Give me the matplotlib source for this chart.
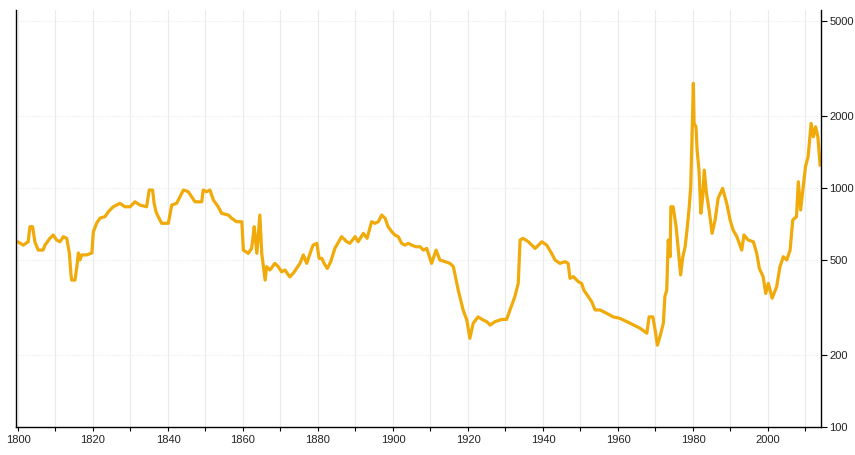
import numpy as np
import matplotlib.pyplot as plt
from matplotlib.ticker import FixedLocator, NullFormatter

years = [1800.1, 1801.4, 1802.7, 1803.2, 1803.9, 1804.5, 1805.4, 1806.7, 1807.2, 1808.5,
         1809.4, 1810.3, 1811.2, 1812.1, 1813.0, 1813.7, 1814.1, 1814.3, 1815.2, 1815.7,
         1816.1, 1816.5, 1817.0, 1818.3, 1819.7, 1820.1, 1821.0, 1821.9, 1823.2, 1824.1,
         1825.4, 1827.2, 1828.5, 1829.9, 1831.2, 1832.5, 1834.3, 1835.0, 1835.9, 1836.3,
         1836.8, 1837.4, 1838.3, 1840.1, 1841.0, 1842.3, 1843.2, 1844.1, 1845.4, 1846.3,
         1847.2, 1849.0, 1849.4, 1850.3, 1851.2, 1852.1, 1853.4, 1854.3, 1856.1, 1857.0,
         1858.3, 1859.7, 1860.1, 1861.4, 1862.3, 1862.7, 1863.0, 1863.7, 1864.5, 1865.0,
         1865.9, 1866.3, 1867.2, 1868.5, 1869.4, 1870.3, 1871.2, 1872.1, 1872.5, 1873.4,
         1875.2, 1876.1, 1877.0, 1877.9, 1878.7, 1879.7, 1880.3, 1881.0, 1881.9, 1882.5,
         1883.4, 1884.5, 1886.3, 1887.7, 1888.5, 1889.9, 1890.7, 1892.1, 1893.1, 1894.3,
         1895.2, 1896.1, 1897.0, 1897.9, 1898.7, 1899.7, 1900.5, 1901.4, 1902.3, 1903.2,
         1904.1, 1905.0, 1906.1, 1907.2, 1908.1, 1909.0, 1910.3, 1911.5, 1912.5, 1913.9,
         1915.2, 1916.1, 1917.4, 1918.7, 1919.7, 1920.5, 1921.4, 1922.7, 1924.1, 1925.0,
         1925.9, 1927.2, 1929.0, 1930.3, 1931.2, 1932.5, 1933.4, 1933.9, 1934.7, 1936.1,
         1937.9, 1939.7, 1941.0, 1942.3, 1943.2, 1944.5, 1945.9, 1946.7, 1947.2, 1948.1,
         1949.4, 1950.3, 1950.9, 1952.1, 1953.0, 1953.9, 1955.2, 1957.0, 1958.7, 1960.5,
         1963.2, 1965.9, 1967.7, 1968.3, 1969.3, 1969.9, 1970.5, 1971.2, 1972.1, 1972.5,
         1973.0, 1973.4, 1973.9, 1974.1, 1974.7, 1975.5, 1976.1, 1976.7, 1977.3, 1977.9,
         1978.5, 1979.0, 1979.4, 1980.1, 1980.3, 1980.8, 1981.1, 1981.6, 1982.1, 1982.6,
         1983.0, 1983.6, 1984.3, 1985.1, 1985.9, 1986.7, 1987.9, 1989.0, 1989.9, 1990.7,
         1991.7, 1993.0, 1993.6, 1994.7, 1996.1, 1997.0, 1997.7, 1998.7, 1999.4, 2000.1,
         2001.1, 2002.3, 2003.2, 2004.1, 2005.0, 2005.9, 2006.6, 2007.6, 2008.1, 2008.7,
         2009.4, 2010.0, 2010.7, 2011.5, 2012.1, 2012.7, 2013.3, 2013.9]

price = [594, 577, 596, 689, 689, 596, 550, 550, 577, 616,
         636, 606, 596, 626, 616, 535, 441, 412, 412, 469,
         535, 500, 525, 525, 535, 656, 714, 749, 759, 796,
         835, 863, 835, 835, 876, 849, 835, 981, 981, 865,
         796, 759, 712, 712, 849, 863, 919, 981, 966, 919,
         876, 876, 981, 966, 981, 891, 835, 784, 771, 747,
         723, 723, 550, 533, 559, 626, 689, 533, 771, 533,
         412, 469, 454, 484, 469, 446, 454, 433, 425, 440,
         484, 525, 484, 533, 577, 587, 508, 508, 476, 461,
         492, 559, 626, 596, 587, 626, 596, 646, 616, 723,
         712, 723, 771, 747, 689, 656, 636, 626, 587, 577,
         587, 577, 568, 568, 550, 559, 484, 550, 500, 492,
         484, 469, 374, 309, 280, 235, 272, 289, 280, 276,
         267, 276, 282, 282, 309, 351, 399, 606, 616, 596,
         559, 596, 577, 533, 500, 484, 492, 484, 419, 426,
         406, 399, 374, 351, 334, 309, 309, 299, 289, 285,
         272, 259, 247, 289, 289, 255, 220, 239, 272, 351,
         374, 606, 516, 835, 835, 689, 550, 433, 516, 568,
         689, 835, 1013, 2742, 1865, 1805, 1442, 1189, 784, 919,
         1189, 950, 809, 646, 735, 905, 997, 863, 735, 667,
         626, 550, 636, 606, 596, 533, 461, 426, 362, 399,
         346, 386, 469, 516, 500, 550, 735, 759, 1063, 809,
         1013, 1228, 1352, 1865, 1639, 1805, 1639, 1248]

yticks = [100, 200, 500, 1000, 2000, 5000]
xmajor = list(range(1800, 2001, 20))
xminor = list(range(1810, 2011, 20))

fig = plt.figure(figsize=(8.55, 4.55), dpi=100)
ax = fig.add_axes([0.0187, 0.0615, 0.9415, 0.9165])

ax.plot(years, price, color='#F0AA0A', linewidth=2.3, solid_joinstyle='round')

ax.set_yscale('log')
ax.set_ylim(100, 5560)
ax.set_xlim(1799.47, 2014.13)

# grid
for x in range(1800, 2011, 10):
    ax.axvline(x, color='#ebebeb', linewidth=0.8, zorder=0)
for y in yticks[1:]:
    ax.axhline(y, color='#e8eef4', linewidth=0.8, linestyle=(0, (1, 1)), zorder=0)

ax.yaxis.tick_right()
ax.yaxis.set_major_locator(FixedLocator(yticks))
ax.yaxis.set_minor_formatter(NullFormatter())
ax.yaxis.set_minor_locator(FixedLocator([]))
ax.set_yticklabels([str(v) for v in yticks])
ax.xaxis.set_major_locator(FixedLocator(xmajor))
ax.xaxis.set_minor_locator(FixedLocator(xminor))

ax.tick_params(axis='y', which='major', length=4, width=0.8, labelsize=8, pad=2,
               colors='black', labelcolor='#222222')
ax.tick_params(axis='x', which='both', length=3, width=0.8, labelsize=8, pad=3,
               labelcolor='#222222')

for lab in ax.get_xticklabels() + ax.get_yticklabels():
    lab.set_fontfamily('Liberation Sans')

ax.spines['top'].set_visible(False)
for s in ['left', 'right', 'bottom']:
    ax.spines[s].set_color('black')
    ax.spines[s].set_linewidth(1.0)

plt.savefig('out.png', dpi=100)
